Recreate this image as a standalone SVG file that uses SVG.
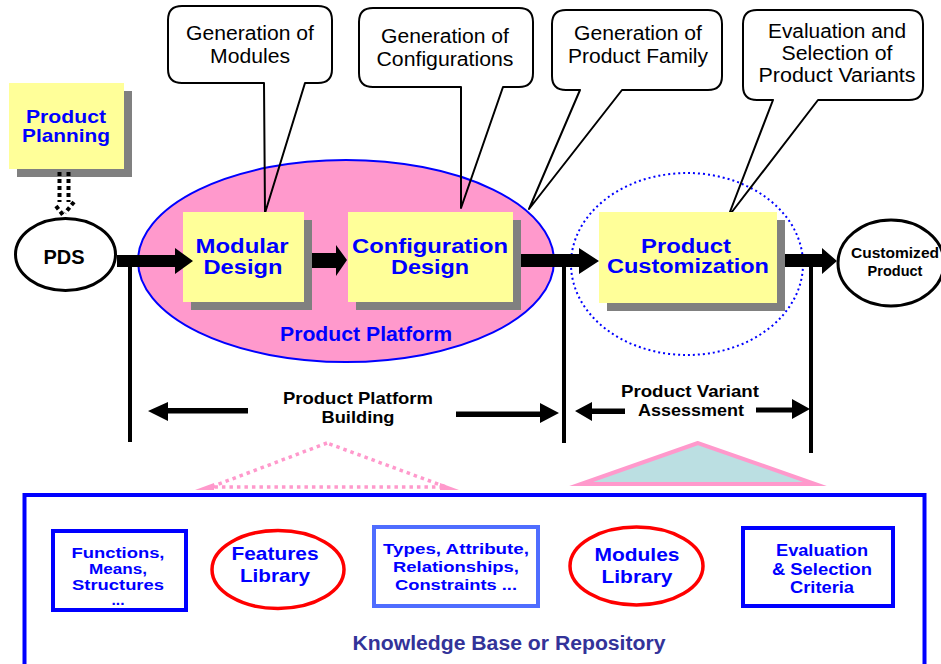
<svg xmlns="http://www.w3.org/2000/svg" width="941" height="664" viewBox="0 0 941 664">
  <style>
    .bg { fill: #ffffff; }
    .box { fill: #ffff99; }
    .shadow { fill: #808080; }
    .title { font-family: "Liberation Sans", Arial, sans-serif; font-weight: bold; fill: #0000ff; text-anchor: middle; }
    .label { font-family: "Liberation Sans", Arial, sans-serif; font-weight: bold; fill: #000000; text-anchor: middle; }
    .note { font-family: "Liberation Sans", Arial, sans-serif; font-size: 20px; fill: #000000; text-anchor: middle; }
    .callout { fill: none; stroke: #000000; stroke-width: 2; stroke-linejoin: round; }
    .oval { fill: #ffffff; stroke: #000000; stroke-width: 3; }
    .lib { fill: #ffffff; stroke: #ff0000; stroke-width: 3.5; }
    .kbox { fill: #ffffff; stroke: #0000ff; stroke-width: 4; }
    .fat { fill: #000000; }
    .tick { stroke: #000000; stroke-width: 4; }
  </style>

  <rect class="bg" x="0" y="0" width="941" height="664"/>

  <!-- platform region -->
  <g id="product-platform">
    <ellipse cx="346" cy="261" rx="208" ry="101" fill="#ff99cc" stroke="#0000ff" stroke-width="2"/>
    <text class="title" x="366" y="341" font-size="19.5" textLength="172" lengthAdjust="spacingAndGlyphs">Product Platform</text>
  </g>

  <!-- customization region -->
  <g id="customization-region">
    <ellipse cx="687" cy="264" rx="116" ry="91" fill="none" stroke="#0000ff" stroke-width="2" stroke-dasharray="2 3"/>
  </g>

  <!-- callouts -->
  <g id="callout-modules">
    <path class="callout" d="M182,6 H318 Q332,6 332,20 V69 Q332,83 318,83 H305 L265,213 L264,83 H182 Q168,83 168,69 V20 Q168,6 182,6 Z"/>
    <text class="note" x="250" y="40" textLength="128" lengthAdjust="spacingAndGlyphs">Generation of</text>
    <text class="note" x="250" y="63" textLength="80" lengthAdjust="spacingAndGlyphs">Modules</text>
  </g>
  <g id="callout-configurations">
    <path class="callout" d="M373,8 H519 Q533,8 533,22 V73 Q533,87 519,87 H503 L461,208 L461,87 H373 Q359,87 359,73 V22 Q359,8 373,8 Z"/>
    <text class="note" x="445" y="43" textLength="128" lengthAdjust="spacingAndGlyphs">Generation of</text>
    <text class="note" x="445" y="66" textLength="137" lengthAdjust="spacingAndGlyphs">Configurations</text>
  </g>
  <g id="callout-family">
    <path class="callout" d="M566,10 H708 Q722,10 722,24 V76 Q722,90 708,90 H622 L529,209 L580,90 H566 Q552,90 552,76 V24 Q552,10 566,10 Z"/>
    <text class="note" x="638" y="40" textLength="128" lengthAdjust="spacingAndGlyphs">Generation of</text>
    <text class="note" x="638" y="63" textLength="140" lengthAdjust="spacingAndGlyphs">Product Family</text>
  </g>
  <g id="callout-variants">
    <path class="callout" d="M757,10 H909 Q923,10 923,24 V86 Q923,100 909,100 H818 L728,217 L773,100 H757 Q743,100 743,86 V24 Q743,10 757,10 Z"/>
    <text class="note" x="837" y="38" font-size="19" textLength="138" lengthAdjust="spacingAndGlyphs">Evaluation and</text>
    <text class="note" x="837" y="60" font-size="19" textLength="111" lengthAdjust="spacingAndGlyphs">Selection of</text>
    <text class="note" x="837" y="82" font-size="19" textLength="157" lengthAdjust="spacingAndGlyphs">Product Variants</text>
  </g>

  <!-- process steps -->
  <g id="product-planning">
    <rect class="shadow" x="17" y="91" width="115" height="86"/>
    <rect class="box" x="9" y="83" width="115" height="86"/>
    <text class="title" x="66" y="123" font-size="18.5" textLength="80" lengthAdjust="spacingAndGlyphs">Product</text>
    <text class="title" x="66" y="142" font-size="18.5" textLength="88" lengthAdjust="spacingAndGlyphs">Planning</text>
  </g>

  <g id="pds">
    <ellipse class="oval" cx="65.5" cy="254.5" rx="50" ry="36"/>
    <text class="label" x="64" y="264" font-size="20">PDS</text>
  </g>

  <g id="modular-design">
    <rect class="shadow" x="191" y="220" width="121" height="90"/>
    <rect class="box" x="183" y="212" width="121" height="90"/>
    <text class="title" x="242" y="253" font-size="20.5" textLength="93" lengthAdjust="spacingAndGlyphs">Modular</text>
    <text class="title" x="243" y="274" font-size="20.5" textLength="79" lengthAdjust="spacingAndGlyphs">Design</text>
  </g>

  <g id="configuration-design">
    <rect class="shadow" x="356" y="220" width="165" height="90"/>
    <rect class="box" x="348" y="212" width="165" height="90"/>
    <text class="title" x="430" y="253" font-size="20.5" textLength="156" lengthAdjust="spacingAndGlyphs">Configuration</text>
    <text class="title" x="430" y="274" font-size="20.5" textLength="78" lengthAdjust="spacingAndGlyphs">Design</text>
  </g>

  <g id="product-customization">
    <rect class="shadow" x="607" y="220" width="178" height="91"/>
    <rect class="box" x="599" y="212" width="178" height="91"/>
    <text class="title" x="686" y="253" font-size="19.5" textLength="90" lengthAdjust="spacingAndGlyphs">Product</text>
    <text class="title" x="688" y="273" font-size="19.5" textLength="162" lengthAdjust="spacingAndGlyphs">Customization</text>
  </g>

  <g id="customized-product">
    <ellipse class="oval" cx="891" cy="263" rx="53" ry="43"/>
    <text class="label" x="895" y="258" font-size="14.5" textLength="88" lengthAdjust="spacingAndGlyphs">Customized</text>
    <text class="label" x="895" y="276" font-size="14.5">Product</text>
  </g>

  <!-- connectors -->
  <g id="connectors">
    <!-- planning to PDS, dotted hollow arrow -->
    <g fill="none" stroke="#000000" stroke-width="4" stroke-dasharray="4 3">
      <path d="M59.5,172 V202"/>
      <path d="M68.5,172 V202"/>
      <path d="M56,206 L63,215"/>
      <path d="M74,202 L65,213"/>
    </g>

    <!-- block arrows along the flow -->
    <polygon class="fat" points="117,255 175,255 175,248 193,261 175,274 175,267 117,267"/>
    <polygon class="fat" points="312,253 336,253 336,245 347,260 336,276 336,268 312,268"/>
    <polygon class="fat" points="521,254 579,254 579,248 599,261 579,274 579,267 521,267"/>
    <polygon class="fat" points="785,254 822,254 822,248 837,261 822,274 822,267 785,267"/>

    <!-- phase boundaries -->
    <line class="tick" x1="130" y1="262" x2="130" y2="442"/>
    <line class="tick" x1="564" y1="262" x2="564" y2="443"/>
    <line class="tick" x1="811" y1="262" x2="811" y2="453" stroke-width="5"/>

    <!-- span arrows -->
    <polygon class="fat" points="148,411 168,402 168,408 248,408 248,413.5 168,413.5 168,421"/>
    <polygon class="fat" points="559,413 540,403 540,411.5 456,411.5 456,417 540,417 540,423"/>
    <polygon class="fat" points="575,411 592,402 592,408.5 625,408.5 625,414 592,414 592,421"/>
    <polygon class="fat" points="810,409 792,399 792,407.5 756,407.5 756,412.5 792,412.5 792,419"/>
  </g>

  <g id="phase-labels">
    <text class="label" x="358" y="404" font-size="16.5" textLength="150" lengthAdjust="spacingAndGlyphs">Product Platform</text>
    <text class="label" x="358" y="423" font-size="16.5" textLength="73" lengthAdjust="spacingAndGlyphs">Building</text>
    <text class="label" x="690" y="397" font-size="16.5" textLength="138" lengthAdjust="spacingAndGlyphs">Product Variant</text>
    <text class="label" x="691" y="416" font-size="16.5" textLength="106" lengthAdjust="spacingAndGlyphs">Assessment</text>
  </g>

  <!-- support wedges above the repository -->
  <g id="platform-wedge">
    <polygon points="195,490 214,483 214,490" fill="#ff99cc"/>
    <polygon points="459,490 440,483 440,490" fill="#ff99cc"/>
    <polygon points="327,443 211,487 446,487" fill="none" stroke="#ff99cc" stroke-width="3.5" stroke-dasharray="3.5 4"/>
  </g>
  <g id="variant-wedge">
    <polygon points="698,443 581,484 815,484" fill="#bbdfe2" stroke="#ff99cc" stroke-width="4" stroke-miterlimit="10"/>
  </g>

  <!-- knowledge base -->
  <g id="knowledge-base">
    <rect x="24.5" y="495" width="900" height="200" fill="#ffffff" stroke="#0000ff" stroke-width="4"/>
    <text x="509" y="650" font-family="'Liberation Sans', Arial, sans-serif" font-weight="bold" font-size="20" fill="#333399" text-anchor="middle" textLength="313" lengthAdjust="spacingAndGlyphs">Knowledge Base or Repository</text>
  </g>

  <g id="functions-means">
    <rect class="kbox" x="53" y="531" width="133" height="79"/>
    <text class="title" x="118" y="558" font-size="14.5" textLength="93" lengthAdjust="spacingAndGlyphs">Functions,</text>
    <text class="title" x="118" y="574" font-size="14.5" textLength="58" lengthAdjust="spacingAndGlyphs">Means,</text>
    <text class="title" x="118" y="590" font-size="14.5" textLength="92" lengthAdjust="spacingAndGlyphs">Structures</text>
    <text class="title" x="118" y="605" font-size="14.5" textLength="13" lengthAdjust="spacingAndGlyphs">...</text>
  </g>

  <g id="features-library">
    <ellipse class="lib" cx="278" cy="569.5" rx="66" ry="39"/>
    <text class="title" x="275" y="560" font-size="19" textLength="87" lengthAdjust="spacingAndGlyphs">Features</text>
    <text class="title" x="275" y="582" font-size="19" textLength="70" lengthAdjust="spacingAndGlyphs">Library</text>
  </g>

  <g id="types-attributes">
    <rect x="374" y="527" width="164" height="79" fill="#ffffff" stroke="#4f6dff" stroke-width="4"/>
    <text class="title" x="456" y="554" font-size="15.5" textLength="146" lengthAdjust="spacingAndGlyphs">Types, Attribute,</text>
    <text class="title" x="456" y="572" font-size="15.5" textLength="126" lengthAdjust="spacingAndGlyphs">Relationships,</text>
    <text class="title" x="456" y="590" font-size="15.5" textLength="122" lengthAdjust="spacingAndGlyphs">Constraints ...</text>
  </g>

  <g id="modules-library">
    <ellipse class="lib" cx="636.5" cy="566" rx="66.5" ry="39"/>
    <text class="title" x="637" y="561" font-size="19" textLength="85" lengthAdjust="spacingAndGlyphs">Modules</text>
    <text class="title" x="637" y="583" font-size="19" textLength="71" lengthAdjust="spacingAndGlyphs">Library</text>
  </g>

  <g id="evaluation-criteria">
    <rect class="kbox" x="743" y="528" width="150" height="78"/>
    <text class="title" x="822" y="556" font-size="16.5" textLength="92" lengthAdjust="spacingAndGlyphs">Evaluation</text>
    <text class="title" x="822" y="575" font-size="16.5" textLength="100" lengthAdjust="spacingAndGlyphs">&amp; Selection</text>
    <text class="title" x="822" y="593" font-size="16.5" textLength="64" lengthAdjust="spacingAndGlyphs">Criteria</text>
  </g>
</svg>
